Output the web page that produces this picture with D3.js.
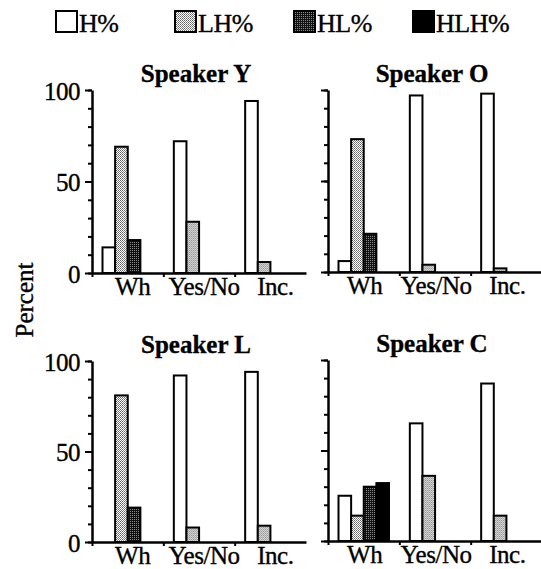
<!DOCTYPE html>
<html>
<head>
<meta charset="utf-8">
<script src="https://cdn.jsdelivr.net/npm/d3@7"></script>
<style>
  body { margin: 0; background: #fff; }
  svg { display: block; font-family: 'Liberation Serif', 'DejaVu Serif', serif; }
  svg text { stroke: #000; stroke-width: 0.35px; }
</style>
</head>
<body>
<svg id="chart" width="541" height="569"></svg>
<script>
const categories = ['Wh', 'Yes/No', 'Inc.'];
const tones = ['H%', 'LH%', 'HL%', 'HLH%'];
const speakers = ['Speaker Y', 'Speaker O', 'Speaker L', 'Speaker C'];

// percent per category (Wh, Yes/No, Inc.), one row per speaker
const hPct = [[14, 72, 94], [6, 97, 98], [0, 92, 94], [25, 65, 87]];
const lhPct = [[69, 28, 6], [73, 4, 2], [81, 8, 9], [14, 36, 14]];
const hlPct = [[18, 0, 0], [21, 0, 0], [19, 0, 0], [30, 0, 0]];
const hlhPct = [[0, 0, 0], [0, 0, 0], [0, 0, 0], [32, 0, 0]];

const yTicks = [0, 50, 100];

const series = [hPct, lhPct, hlPct, hlhPct];

const svg = d3.select('#chart');

// fill patterns
const defs = svg.append('defs');
const lhPat = defs.append('pattern')
  .attr('id', 'pat-lh')
  .attr('width', 2).attr('height', 2)
  .attr('patternUnits', 'userSpaceOnUse');
lhPat.append('rect').attr('width', 2).attr('height', 2).attr('fill', '#fff');
lhPat.append('rect').attr('width', 1).attr('height', 1).attr('fill', '#666');
lhPat.append('rect').attr('x', 1).attr('y', 1).attr('width', 1).attr('height', 1).attr('fill', '#888');

const hlPat = defs.append('pattern')
  .attr('id', 'pat-hl')
  .attr('width', 2).attr('height', 2)
  .attr('patternUnits', 'userSpaceOnUse');
hlPat.append('rect').attr('width', 2).attr('height', 2).attr('fill', '#111');
hlPat.append('rect').attr('width', 1).attr('height', 1).attr('fill', '#888');

const fills = {
  'H%': '#fff',
  'LH%': 'url(#pat-lh)',
  'HL%': 'url(#pat-hl)',
  'HLH%': '#000',
};

// legend
const legendX = d3.scalePoint().domain(tones).range([55, 412]);
const legend = svg.append('g').selectAll('g')
  .data(tones)
  .enter().append('g')
  .attr('transform', d => `translate(${legendX(d)},10)`);
legend.append('rect')
  .attr('x', 1).attr('y', 1)
  .attr('width', 21).attr('height', 21)
  .attr('fill', d => fills[d])
  .attr('stroke', '#000')
  .attr('stroke-width', 2);
legend.append('text')
  .attr('x', 24).attr('y', 22)
  .style('font-size', '26px')
  .style('letter-spacing', '-0.5px')
  .text(d => d);

// y-axis label
svg.append('text')
  .attr('transform', 'translate(33,300) rotate(-90)')
  .attr('text-anchor', 'middle')
  .style('font-size', '25px')
  .text('Percent');

const panelW = 214;
const panels = [
  { left: 92, top: 90, bottom: 273 },
  { left: 328, top: 90, bottom: 272 },
  { left: 92, top: 361, bottom: 542 },
  { left: 328, top: 360, bottom: 541 },
];

const x0 = d3.scaleBand().domain(categories).range([0, panelW]);
const x1 = d3.scaleBand().domain(tones).range([10.5, 61]);
const xb = d3.scaleLinear().domain([0, 3]).range([0, x0.step() * 3]);

speakers.forEach((name, si) => {
  const p = panels[si];
  const y = d3.scaleLinear().domain([0, 100]).range([p.bottom - p.top, 0]);
  const g = svg.append('g').attr('transform', `translate(${p.left},${p.top})`);

  // bars
  const groups = g.selectAll('.grp')
    .data(categories)
    .enter().append('g')
    .attr('class', 'grp')
    .attr('transform', d => `translate(${x0(d)},0)`);

  groups.selectAll('rect')
    .data((c, ci) => tones.map((t, ti) => ({ tone: t, value: series[ti][si][ci] }))
      .filter(d => d.value > 0))
    .enter().append('rect')
    .attr('x', d => x1(d.tone))
    .attr('width', x1.bandwidth())
    .attr('y', d => y(d.value))
    .attr('height', d => y(0) - y(d.value))
    .attr('fill', d => fills[d.tone])
    .attr('stroke', '#000')
    .attr('stroke-width', 2);

  // y axis: minor ticks
  g.append('g')
    .call(d3.axisLeft(y).tickValues(d3.range(0, 101, 10)).tickSize(4).tickSizeOuter(0).tickFormat(''))
    .call(a => a.select('.domain').attr('stroke-width', 2.5))
    .call(a => a.selectAll('line').attr('stroke-width', 2));

  // y axis: labelled ticks (left column only)
  const yAx = g.append('g')
    .call(d3.axisLeft(y).tickValues(yTicks).tickSize(7).tickPadding(5).tickSizeOuter(0));
  yAx.select('.domain').remove();
  yAx.selectAll('line').attr('stroke-width', 2);
  yAx.selectAll('text')
    .attr('dy', '0.36em')
    .style('font-size', '25px')
    .style('font-family', "'Liberation Serif', serif")
    .style('letter-spacing', '-0.5px');
  if (si % 2 === 1) yAx.selectAll('text').remove();

  // x axis line + boundary ticks
  const xAx = g.append('g')
    .attr('transform', `translate(0,${y(0)})`)
    .call(d3.axisBottom(xb).tickValues([0, 1, 2]).tickSize(4).tickSizeOuter(0).tickFormat(''));
  xAx.select('.domain').attr('stroke-width', 2.5);
  xAx.selectAll('line').attr('stroke-width', 2);

  // category labels
  const xl = g.append('g')
    .attr('transform', `translate(${si % 2 === 0 ? 5 : 1},${y(0)})`)
    .call(d3.axisBottom(x0).tickSize(0).tickPadding(4));
  xl.select('.domain').remove();
  xl.selectAll('text')
    .style('font-size', '25px')
    .style('font-family', "'Liberation Serif', serif")
    .style('letter-spacing', '-0.5px');

  // title
  g.append('text')
    .attr('x', 104)
    .attr('y', -8)
    .attr('text-anchor', 'middle')
    .style('font-size', '25px')
    .style('font-weight', 'bold')
    .text(name);
});
</script>
</body>
</html>
